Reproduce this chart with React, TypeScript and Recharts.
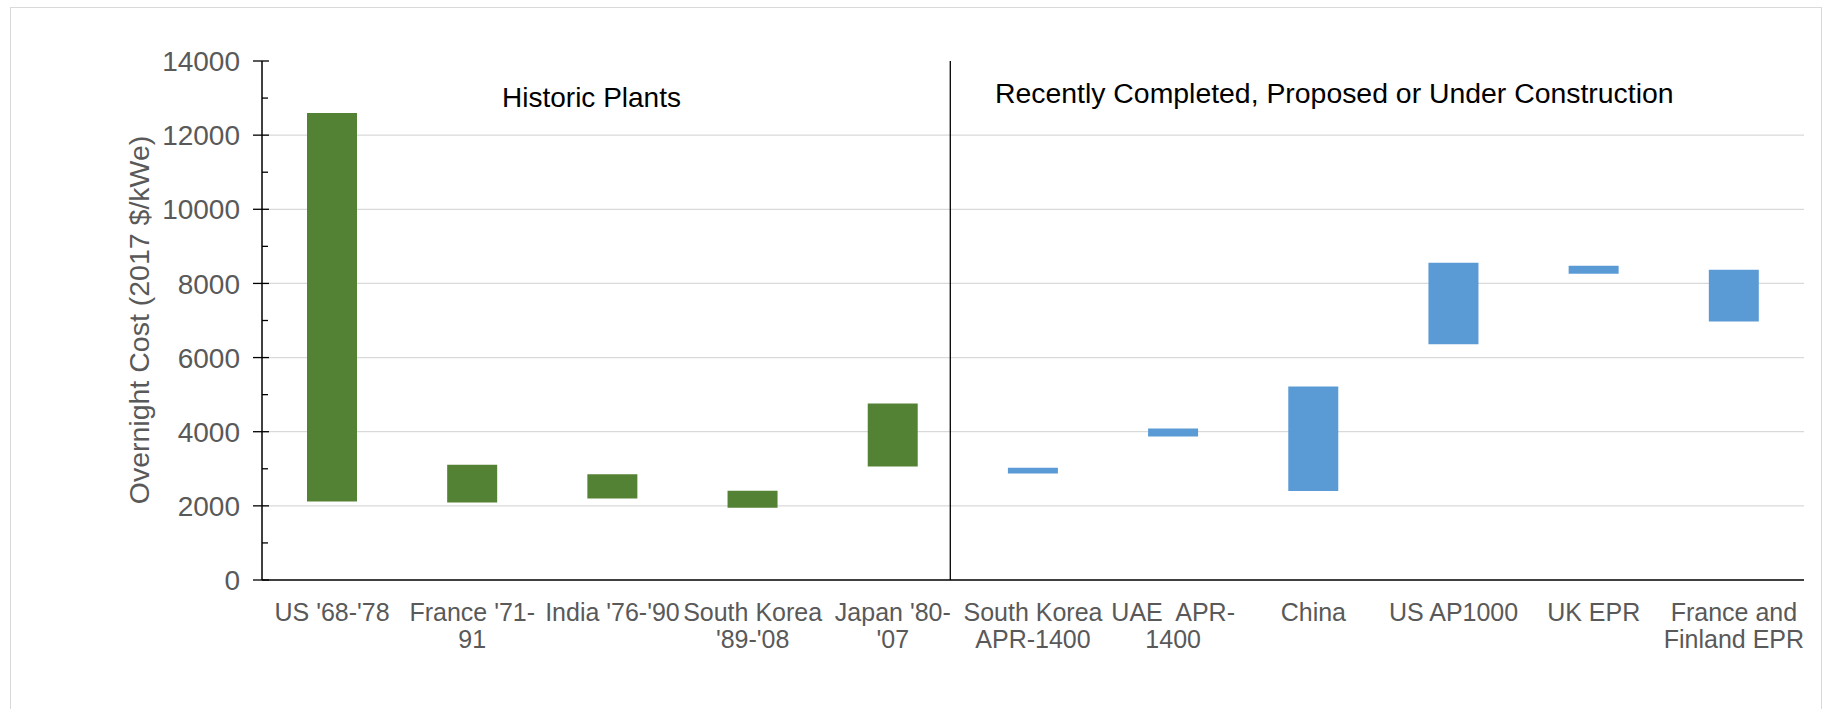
import React from 'react';
import { BarChart, Bar, XAxis, YAxis, CartesianGrid, ReferenceLine, Cell } from 'recharts';

const categories = [
  "US '68-'78",
  "France '71-91",
  "India '76-'90",
  "South Korea '89-'08",
  "Japan '80-'07",
  "South Korea APR-1400",
  "UAE  APR-1400",
  "China",
  "US AP1000",
  "UK EPR",
  "France and Finland EPR",
];

const tickLabelLines = [
  ["US '68-'78"],
  ["France '71-", "91"],
  ["India '76-'90"],
  ["South Korea", "'89-'08"],
  ["Japan '80-", "'07"],
  ["South Korea", "APR-1400"],
  ["UAE  APR-", "1400"],
  ["China"],
  ["US AP1000"],
  ["UK EPR"],
  ["France and", "Finland EPR"],
];

const lowValues = [2120, 2090, 2200, 1950, 3060, 2870, 3870, 2400, 6360, 8260, 6970];
const highValues = [12600, 3110, 2850, 2410, 4760, 3030, 4090, 5220, 8560, 8480, 8370];
const groups = ['historic', 'historic', 'historic', 'historic', 'historic', 'recent', 'recent', 'recent', 'recent', 'recent', 'recent'];

const yTickValues = [0, 1000, 2000, 3000, 4000, 5000, 6000, 7000, 8000, 9000, 10000, 11000, 12000, 13000, 14000];
const yDomain = [0, 14000];
const gridValues = [2000, 4000, 6000, 8000, 10000, 12000];
// divider position in category-band units (0 = left edge, 11 = right edge)
const dividerPosition = 4.91;

const groupTitles = ['Historic Plants', 'Recently Completed, Proposed or Under Construction'];

const COLORS: Record<string, string> = { historic: '#548235', recent: '#5B9BD5' };
const FONT = '"Liberation Sans", Arial, "DejaVu Sans", sans-serif';

const data = categories.map((name, i) => ({
  name,
  pos: i + 0.5,
  range: [lowValues[i], highValues[i]],
  group: groups[i],
}));

const XTick = (props: any) => {
  const { x, y, payload } = props;
  const idx = categories.indexOf(payload.value);
  const lines = tickLabelLines[idx] || [payload.value];
  return (
    <text x={x} y={y} textAnchor="middle" fill="#595959" fontSize={25} style={{ whiteSpace: 'pre' }}>
      {lines.map((l, i) => (
        <tspan key={i} x={x} y={y + 41 + 27 * i}>
          {l}
        </tspan>
      ))}
    </text>
  );
};

const YTick = (props: any) => {
  const { x, y, payload } = props;
  const v = payload.value;
  const major = v % 2000 === 0;
  return (
    <g>
      {major ? (
        <line x1={x - 9} x2={x + 7} y1={y} y2={y} stroke="#000" strokeWidth={1.3} />
      ) : (
        <line x1={x} x2={x + 6} y1={y} y2={y} stroke="#000" strokeWidth={1.3} />
      )}
      {major && (
        <text x={x - 22} y={y} dy="0.36em" textAnchor="end" fill="#595959" fontSize={28}>
          {v}
        </text>
      )}
    </g>
  );
};

const gridGenerator = (p: any) => {
  const ya = p && p.yAxis;
  if (ya && typeof ya.scale === 'function') {
    return gridValues.map((v) => ya.scale(v));
  }
  const off = (p && p.offset) || {};
  const top = off.top ?? 0;
  const h = off.height ?? 0;
  return gridValues.map((v) => top + h * (1 - (v - yDomain[0]) / (yDomain[1] - yDomain[0])));
};

export default function App() {
  return (
    <div
      style={{
        position: 'fixed',
        left: 0,
        top: 0,
        width: 1827,
        height: 709,
        overflow: 'hidden',
        background: '#fff',
        fontFamily: FONT,
      }}
    >
      <div
        style={{
          position: 'absolute',
          left: 10,
          top: 7,
          width: 1812,
          height: 740,
          border: '1px solid #d9d9d9',
          boxSizing: 'border-box',
        }}
      />
      <div style={{ position: 'absolute', left: 0, top: 0 }}>
        <BarChart
          width={1827}
          height={709}
          data={data}
          margin={{ top: 61, right: 23, left: 0, bottom: 29 }}
          style={{ fontFamily: FONT }}
        >
          <CartesianGrid
            vertical={false}
            stroke="#d9d9d9"
            strokeWidth={1.3}
            horizontalCoordinatesGenerator={gridGenerator}
          />
          <XAxis
            dataKey="name"
            type="category"
            height={100}
            tickLine={false}
            tickSize={0}
            tickMargin={0}
            interval={0}
            axisLine={{ stroke: '#000', strokeWidth: 1.6 }}
            tick={<XTick />}
          />
          <XAxis
            xAxisId="top"
            dataKey="name"
            orientation="top"
            height={0}
            tick={false}
            tickLine={false}
            axisLine={{ stroke: '#000', strokeWidth: 1.3 }}
          />
          <XAxis
            xAxisId="num"
            dataKey="pos"
            type="number"
            domain={[0, categories.length]}
            allowDataOverflow
            hide
          />
          <YAxis
            width={262}
            domain={yDomain}
            ticks={yTickValues}
            interval={0}
            tickLine={false}
            tickSize={0}
            tickMargin={0}
            axisLine={{ stroke: '#000', strokeWidth: 1.5 }}
            tick={<YTick />}
          />
          <YAxis
            yAxisId="right"
            orientation="right"
            width={0}
            domain={yDomain}
            tick={false}
            tickLine={false}
            axisLine={{ stroke: '#000', strokeWidth: 1.3 }}
          />
          <Bar dataKey="range" barSize={50} isAnimationActive={false}>
            {data.map((d, i) => (
              <Cell key={i} fill={COLORS[d.group]} />
            ))}
          </Bar>
          <ReferenceLine xAxisId="num" x={dividerPosition} stroke="#000" strokeWidth={1.3} />
        </BarChart>
      </div>
      <svg
        width={1827}
        height={709}
        style={{ position: 'absolute', left: 0, top: 0, pointerEvents: 'none', fontFamily: FONT }}
      >
        <text x={139} y={320} transform="rotate(-90 139 320)" dy="0.36em" textAnchor="middle" fill="#595959" fontSize={28.5}>
          Overnight Cost (2017 $/kWe)
        </text>
        <text x={591.5} y={107} textAnchor="middle" fill="#000" fontSize={28}>
          {groupTitles[0]}
        </text>
        <text x={995} y={103} textAnchor="start" fill="#000" fontSize={28.4}>
          {groupTitles[1]}
        </text>
      </svg>
    </div>
  );
}
